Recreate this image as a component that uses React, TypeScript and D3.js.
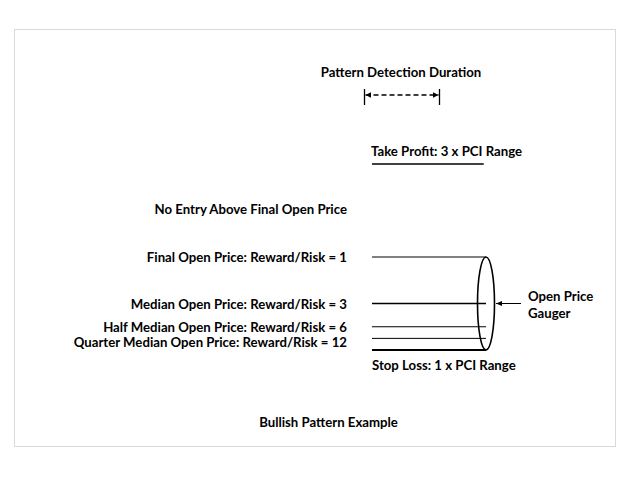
import React from "react";
import * as d3 from "d3";

// Price levels in units of PCI range (stop loss = -1, take profit = +3)
const levelNames = ["Take Profit", "Final Open", "Median Open", "Half Median Open", "Quarter Median Open", "Stop Loss"];
const levelValues = [3, 1, 0, -0.5, -0.75, -1];
const leftLabels = [
  "Final Open Price: Reward/Risk = 1",
  "Median Open Price: Reward/Risk = 3",
  "Half Median Open Price: Reward/Risk = 6",
  "Quarter Median Open Price: Reward/Risk = 12",
];
const titleTop = "Pattern Detection Duration";
const takeProfitLabel = "Take Profit: 3 x PCI Range";
const stopLossLabel = "Stop Loss: 1 x PCI Range";
const noEntryLabel = "No Entry Above Final Open Price";
const gaugeLabel = ["Open Price", "Gauger"];
const caption = "Bullish Pattern Example";

const W = 640;
const H = 480;
const font = "Lato, 'Open Sans', 'Noto Sans', sans-serif";

export default function App() {
  const y = d3.scaleLinear().domain([-1, 3]).range([350, 164]);
  const x = d3.scaleLinear().domain([0, 1]).range([372, 486]);
  const fs = 13.2;

  const lineStyles: Record<string, { w: number; x2: number }> = {
    "Take Profit": { w: 1.6, x2: x(0.98) },
    "Final Open": { w: 1, x2: x(1) },
    "Median Open": { w: 1.6, x2: x(1) },
    "Half Median Open": { w: 1, x2: x(1) },
    "Quarter Median Open": { w: 1, x2: x(1) },
    "Stop Loss": { w: 2.2, x2: x(1) },
  };

  const labelY = [y(1), y(0), y(-0.5), y(-0.75) + 3.5];
  const gx = x(1);
  const gcy = y(0);
  const gry = (y(-1) - y(1)) / 2;

  const dashY = 95;
  const dx1 = 364.5;
  const dx2 = 439.5;

  const textProps = {
    fontFamily: font,
    fontWeight: 700,
    fontSize: fs,
    fill: "#000",
    dominantBaseline: "central" as const,
  };

  return (
    <svg width={W} height={H} style={{ position: "absolute", left: 0, top: 0 }}>
      <defs>
        <marker id="ah" viewBox="0 0 10 10" refX="10" refY="5" markerWidth="4.5" markerHeight="4.5" orient="auto-start-reverse">
          <path d="M0,0 L10,5 L0,10 z" fill="#000" />
        </marker>
        <marker id="ah2" viewBox="0 0 10 10" refX="10" refY="5" markerWidth="6" markerHeight="6" orient="auto">
          <path d="M0,1 L10,5 L0,9 z" fill="#000" />
        </marker>
      </defs>
      <rect x={0} y={0} width={W} height={H} fill="#fff" />
      <rect x={14.5} y={29.5} width={601} height={417} fill="#fff" stroke="#d9d9d9" strokeWidth={1} />

      {/* Pattern detection duration */}
      <text {...textProps} x={401} y={72} textAnchor="middle">{titleTop}</text>
      <line x1={dx1} x2={dx1} y1={89} y2={105} stroke="#000" strokeWidth={1.3} />
      <line x1={dx2} x2={dx2} y1={89} y2={105} stroke="#000" strokeWidth={1.3} />
      <line
        x1={dx1 + 1}
        x2={dx2 - 1}
        y1={dashY}
        y2={dashY}
        stroke="#000"
        strokeWidth={1.3}
        strokeDasharray="5,3"
        markerStart="url(#ah)"
        markerEnd="url(#ah)"
      />

      {/* Take profit */}
      <text {...textProps} x={371} y={y(3) - 13}>{takeProfitLabel}</text>

      {/* No entry */}
      <text {...textProps} x={347} y={209} textAnchor="end">{noEntryLabel}</text>

      {/* Level lines */}
      {levelNames.map((n, i) => (
        <line
          key={n}
          x1={x(0)}
          x2={lineStyles[n].x2}
          y1={y(levelValues[i])}
          y2={y(levelValues[i])}
          stroke="#000"
          strokeWidth={lineStyles[n].w}
        />
      ))}

      {/* Left labels */}
      {leftLabels.map((t, i) => (
        <text key={t} {...textProps} x={347} y={labelY[i]} textAnchor="end">{t}</text>
      ))}

      {/* Gauge ellipse */}
      <ellipse cx={gx} cy={gcy} rx={8.5} ry={gry} fill="none" stroke="#000" strokeWidth={1.6} />

      {/* Gauge arrow */}
      <line x1={521} x2={496} y1={gcy} y2={gcy} stroke="#000" strokeWidth={1} markerEnd="url(#ah2)" />
      <text {...textProps} x={528} y={296}>{gaugeLabel[0]}</text>
      <text {...textProps} x={528} y={313}>{gaugeLabel[1]}</text>

      {/* Stop loss */}
      <text {...textProps} x={372} y={y(-1) + 15}>{stopLossLabel}</text>

      {/* Caption */}
      <text {...textProps} x={328.5} y={422} textAnchor="middle">{caption}</text>
    </svg>
  );
}
